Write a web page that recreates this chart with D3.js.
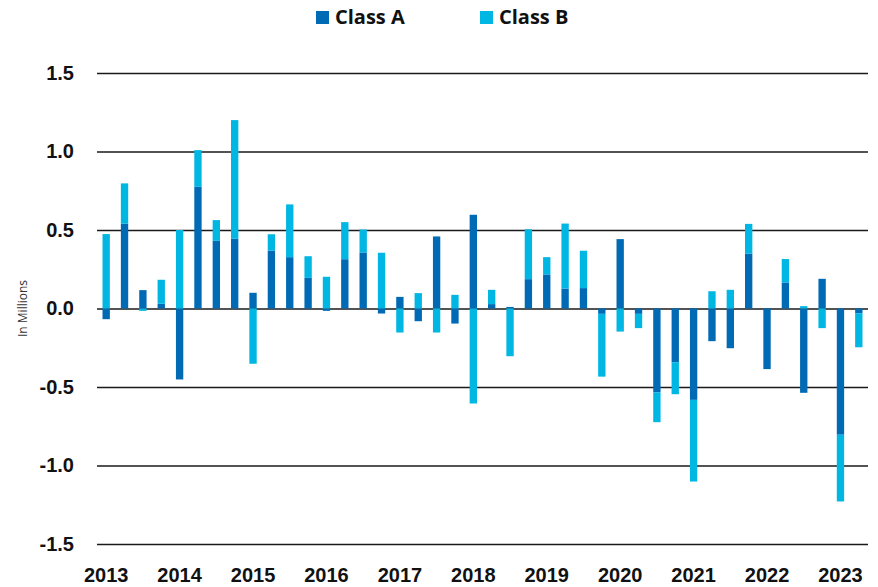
<!DOCTYPE html>
<html lang="en">
<head>
    <meta charset="UTF-8">
    <title>Class A / Class B</title>
    <style>
        body { margin: 0; background: #fff; }
        svg { display: block; font-family: "Open Sans", sans-serif; }
        .grid line { stroke: #1a1a1a; stroke-width: 1.4px; }
        .tick-label { font-size: 20px; font-weight: 700; fill: #111; }
        .legend-label { font-size: 20px; font-weight: 700; fill: #111; }
        .y-title { font-size: 12px; fill: #333; }
    </style>
</head>
<body>
    <svg width="878" height="587"></svg>

    <script src="https://d3js.org/d3.v7.min.js"></script>
    <script>
        // quarters, 2013 Q1 -> 2023 Q2
        const quarters = [
            '2013 Q1', '2013 Q2', '2013 Q3', '2013 Q4',
            '2014 Q1', '2014 Q2', '2014 Q3', '2014 Q4',
            '2015 Q1', '2015 Q2', '2015 Q3', '2015 Q4',
            '2016 Q1', '2016 Q2', '2016 Q3', '2016 Q4',
            '2017 Q1', '2017 Q2', '2017 Q3', '2017 Q4',
            '2018 Q1', '2018 Q2', '2018 Q3', '2018 Q4',
            '2019 Q1', '2019 Q2', '2019 Q3', '2019 Q4',
            '2020 Q1', '2020 Q2', '2020 Q3', '2020 Q4',
            '2021 Q1', '2021 Q2', '2021 Q3', '2021 Q4',
            '2022 Q1', '2022 Q2', '2022 Q3', '2022 Q4',
            '2023 Q1', '2023 Q2'
        ];

        // in millions
        const classA = [
            -0.068, 0.54, 0.117, 0.03, -0.452, 0.775, 0.431, 0.444,
            0.1, 0.369, 0.327, 0.195, -0.015, 0.314, 0.357, -0.032,
            0.074, -0.081, 0.459, -0.096, 0.597, 0.028, 0.01, 0.187,
            0.217, 0.127, 0.13, -0.034, 0.442, -0.034, -0.535, -0.342,
            -0.582, -0.208, -0.253, 0.35, -0.386, 0.166, -0.537, 0.189,
            -0.804, -0.03
        ];
        const classB = [
            0.474, 0.257, -0.015, 0.153, 0.5, 0.234, 0.132, 0.756,
            -0.352, 0.104, 0.336, 0.138, 0.202, 0.236, 0.146, 0.355,
            -0.153, 0.098, -0.153, 0.087, -0.605, 0.091, -0.304, 0.318,
            0.11, 0.414, 0.238, -0.4, -0.147, -0.091, -0.189, -0.204,
            -0.52, 0.11, 0.119, 0.189, 0, 0.149, 0.015, -0.125,
            -0.425, -0.217
        ];

        const yTicks = [-1.5, -1.0, -0.5, 0, 0.5, 1.0, 1.5];
        const yearTicks = ['2013 Q1', '2014 Q1', '2015 Q1', '2016 Q1', '2017 Q1', '2018 Q1',
                           '2019 Q1', '2020 Q1', '2021 Q1', '2022 Q1', '2023 Q1'];

        const seriesNames = ['Class A', 'Class B'];
        const colors = { 'Class A': '#006ab4', 'Class B': '#00b6e3' };

        const plotLeft = 97, plotRight = 868, plotTop = 73, plotBottom = 544;

        const svg = d3.select('svg');

        // rows for the stack
        const rows = quarters.map((q, i) => ({ q: q, 'Class A': classA[i], 'Class B': classB[i] }));

        const x = d3.scaleBand()
            .domain(quarters)
            .range([plotLeft, plotRight])
            .paddingInner(0.6)
            .paddingOuter(0.3);

        const y = d3.scaleLinear()
            .domain([-1.5, 1.5])
            .range([plotBottom, plotTop]);

        // gridlines + y labels
        const yAxis = svg.append('g')
            .attr('class', 'grid')
            .attr('transform', `translate(${plotLeft},0)`)
            .call(d3.axisLeft(y)
                .tickValues(yTicks)
                .tickSize(-(plotRight - plotLeft))
                .tickPadding(23)
                .tickFormat(d => d.toFixed(1)));
        yAxis.select('.domain').remove();
        yAxis.selectAll('text').attr('class', 'tick-label').attr('fill', null);

        // year labels
        const xAxis = svg.append('g')
            .attr('transform', `translate(0,${plotBottom})`)
            .call(d3.axisBottom(x)
                .tickValues(yearTicks)
                .tickSize(0)
                .tickPadding(24)
                .tickFormat(d => d.slice(0, 4)));
        xAxis.select('.domain').remove();
        xAxis.selectAll('text').attr('class', 'tick-label').attr('fill', null);

        // stacked bars (positive and negative stacked apart)
        const stacked = d3.stack()
            .keys(seriesNames)
            .offset(d3.stackOffsetDiverging)(rows);

        svg.append('g')
            .selectAll('g')
            .data(stacked)
            .join('g')
            .attr('fill', d => colors[d.key])
            .selectAll('rect')
            .data(d => d)
            .join('rect')
            .attr('x', d => x(d.data.q))
            .attr('width', x.bandwidth())
            .attr('y', d => y(Math.max(d[0], d[1])))
            .attr('height', d => Math.abs(y(d[0]) - y(d[1])));

        // y title
        svg.append('text')
            .attr('class', 'y-title')
            .attr('transform', `translate(27,${(plotTop + plotBottom) / 2}) rotate(-90)`)
            .attr('text-anchor', 'middle')
            .text('In Millions');

        // legend
        const legendX = [316, 480];
        const legend = svg.append('g')
            .selectAll('g')
            .data(seriesNames)
            .join('g')
            .attr('transform', (d, i) => `translate(${legendX[i]},11)`);
        legend.append('rect')
            .attr('width', 13)
            .attr('height', 13)
            .attr('fill', d => colors[d]);
        legend.append('text')
            .attr('class', 'legend-label')
            .attr('x', 19)
            .attr('y', 13)
            .text(d => d);
    </script>
</body>
</html>
